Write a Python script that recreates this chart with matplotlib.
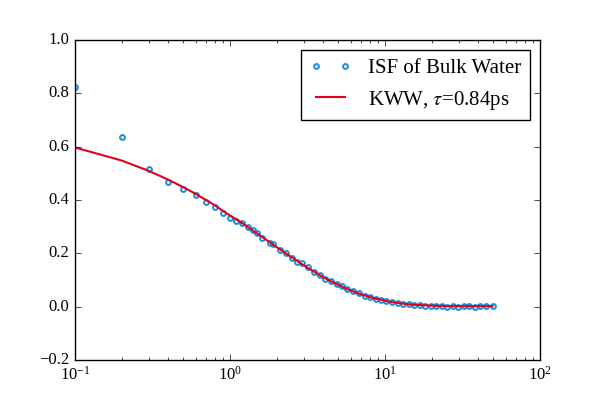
import numpy as np
import matplotlib
matplotlib.use('Agg')
import matplotlib.pyplot as plt

# time (ps)
t = [0.1, 0.2, 0.3, 0.4, 0.5, 0.6, 0.7, 0.8, 0.9, 1.0,
     1.1, 1.2, 1.3, 1.4, 1.5, 1.6, 1.8, 1.9, 2.1, 2.3,
     2.5, 2.7, 2.9, 3.2, 3.5, 3.8, 4.1, 4.5, 4.9, 5.3,
     5.7, 6.2, 6.8, 7.4, 8.0, 8.7, 9.4, 10.2, 11.1, 12.1,
     13.1, 14.2, 15.4, 16.7, 18.2, 19.7, 21.4, 23.2, 25.2, 27.4,
     29.7, 32.2, 35.0, 38.0, 41.2, 44.7, 49.4]

# ISF of bulk water
isf = [0.825, 0.635, 0.515, 0.466, 0.440, 0.419, 0.391, 0.373, 0.350, 0.331,
       0.322, 0.312, 0.300, 0.289, 0.276, 0.258, 0.238, 0.236, 0.214, 0.203,
       0.183, 0.168, 0.164, 0.147, 0.129, 0.118, 0.105, 0.096, 0.086, 0.078,
       0.068, 0.060, 0.050, 0.041, 0.038, 0.030, 0.026, 0.023, 0.018, 0.014,
       0.010, 0.009, 0.007, 0.006, 0.004, 0.002, 0.001, 0.002, 0.000, 0.001,
       -0.001, 0.002, 0.003, 0.000, 0.002, 0.003, 0.001]

# KWW fit
kww = [0.597, 0.548, 0.509, 0.476, 0.448, 0.423, 0.400, 0.380, 0.359, 0.342,
       0.327, 0.313, 0.299, 0.286, 0.274, 0.263, 0.242, 0.232, 0.215, 0.199,
       0.185, 0.172, 0.160, 0.144, 0.131, 0.118, 0.107, 0.095, 0.084, 0.075,
       0.066, 0.058, 0.049, 0.042, 0.036, 0.030, 0.026, 0.021, 0.017, 0.014,
       0.011, 0.009, 0.007, 0.006, 0.005, 0.004, 0.003, 0.003, 0.002, 0.002,
       0.002, 0.002, 0.002, 0.002, 0.002, 0.002, 0.002]

plt.style.use('classic')
plt.rcParams['font.family'] = 'serif'
plt.rcParams['font.serif'] = ['Liberation Serif']
plt.rcParams['mathtext.fontset'] = 'stix'

fig = plt.figure(figsize=(6, 4), dpi=100)
ax = fig.add_subplot(111)
ax.plot(t, isf, 'o', ms=3.5, mfc='none', mec='#1a8fd8', mew=1.4,
        label='ISF of Bulk Water')
ax.plot(t, kww, '-', color='#e3001b', lw=1.5, label=r'KWW, $\tau$=0.84ps')
ax.set_xscale('log')
ax.set_xlim(0.1, 100)
ax.set_ylim(-0.2, 1.0)
ax.legend(loc='upper right', fontsize=15)
fig.savefig('out.png', dpi=100)
